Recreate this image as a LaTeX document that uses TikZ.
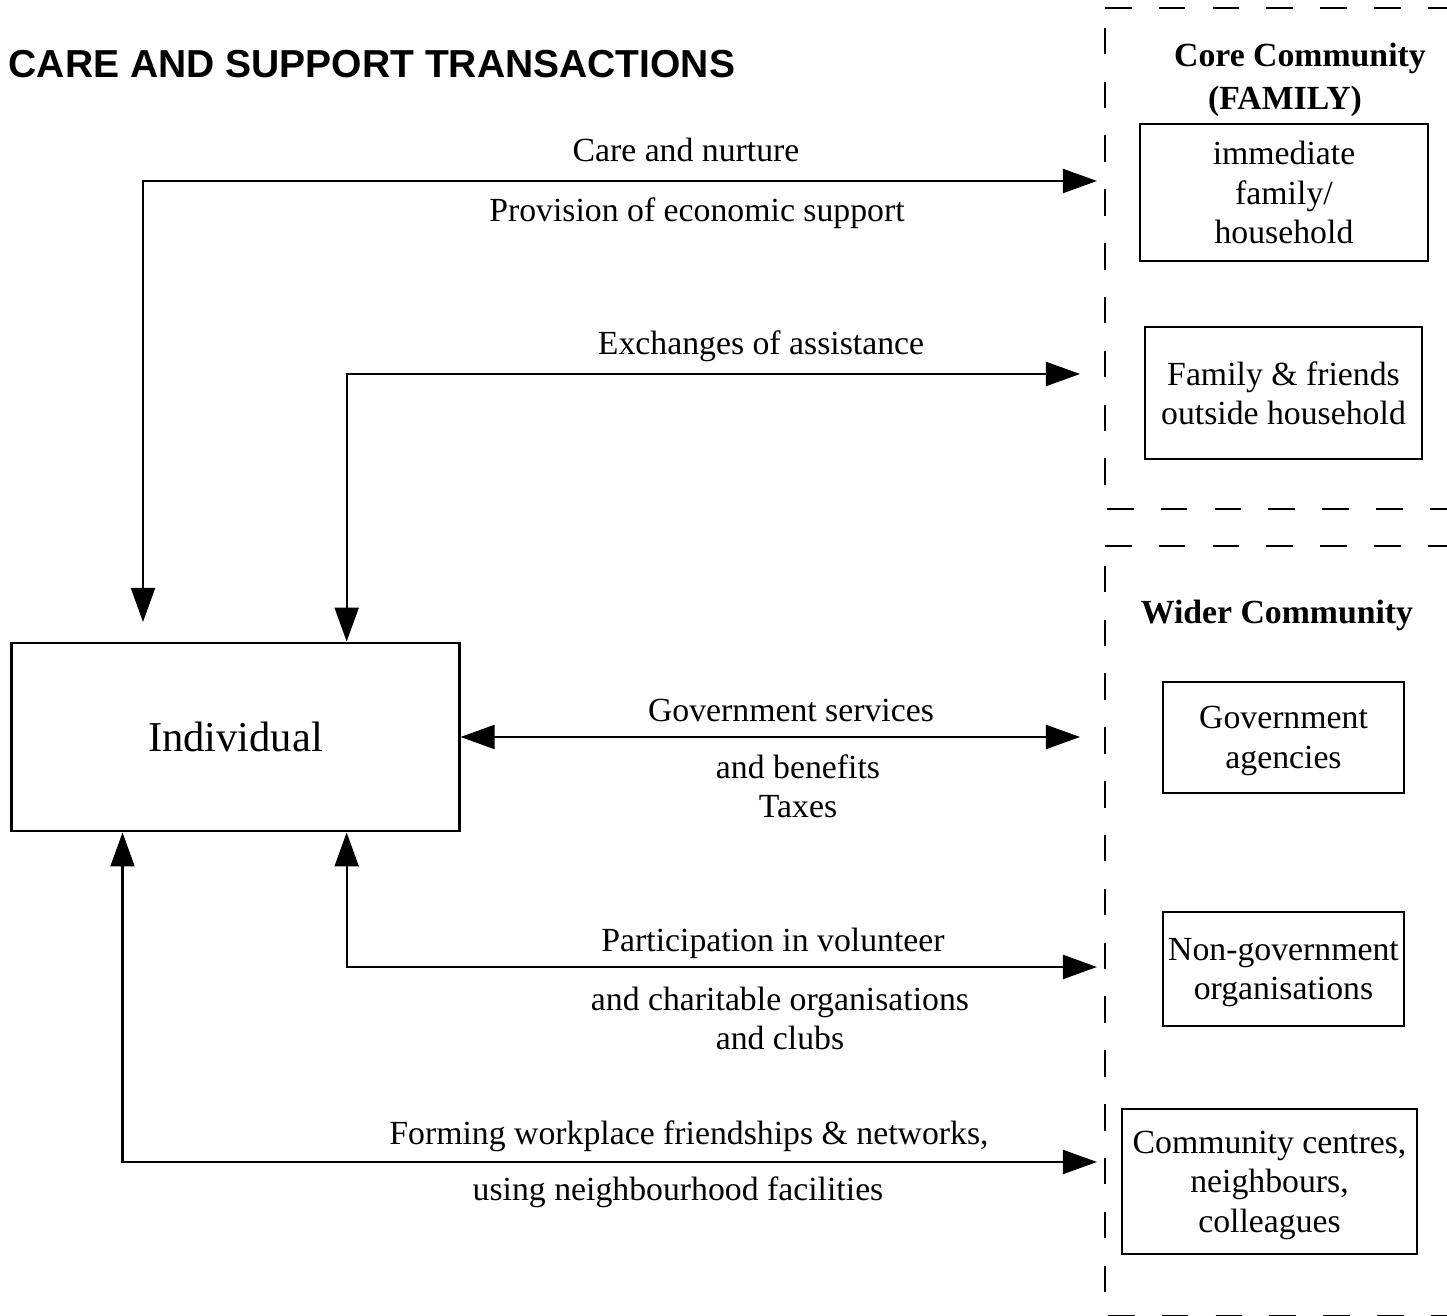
\documentclass[tikz,border=0pt]{standalone}
\usepackage{fontspec}
\setmainfont{Liberation Serif}
\newfontfamily\headfont{Liberation Sans}
\usetikzlibrary{arrows.meta}

\begin{document}
\begin{tikzpicture}[x=0.01cm,y=-0.01cm,
		txt/.style={inner sep=0,align=center,text depth=0pt,font=\fontsize{9.6}{11.2}\selectfont}]
		\useasboundingbox (0,0) rectangle (1447,1316);

		\node[anchor=west,inner sep=0,font=\headfont\bfseries\fontsize{11.1}{13}\selectfont] (title) at (8,64) {CARE AND SUPPORT TRANSACTIONS};

		% community borders
		\begin{scope}[line width=0.65pt,dash pattern=on 0.265cm off 0.273cm]
			\draw (1105,8) -- (1447,8);
			\draw[dash phase=0.34cm] (1105,8) -- (1105,509);
			\draw (1107,509) -- (1447,509);
			\draw (1105,546) -- (1447,546);
			\draw[dash phase=0.34cm] (1105,546) -- (1105,1300);
			\draw (1108,1316) -- (1447,1316);
		\end{scope}

		\begin{scope}[every node/.style={txt,font=\bfseries\fontsize{9.6}{11.2}\selectfont}]
			\node (core) at (1300,55) {Core Community};
			\node (corefam) at (1285,98) {(FAMILY)};
			\node (wider) at (1277,612) {Wider Community};
		\end{scope}

		\begin{scope}[every node/.style={txt,draw,line width=0.8pt}]
			\node[minimum width=4.47cm,minimum height=1.88cm,font=\fontsize{12.1}{14}\selectfont] (ind) at (235.5,737) {Individual};

			\node[minimum width=2.88cm,minimum height=1.37cm] (fam) at (1284,192.5) {immediate\\family/\\household};
			\node[minimum width=2.77cm,minimum height=1.32cm] (frd) at (1283.5,393) {Family \& friends\\outside household};

			\node[minimum width=2.41cm,minimum height=1.11cm] (gov) at (1283.5,737.5) {Government\\agencies};
			\node[minimum width=2.41cm,minimum height=1.14cm] (ngo) at (1283.5,969) {Non-government\\organisations};
			\node[minimum width=2.95cm,minimum height=1.45cm] (com) at (1269.5,1181.5) {Community centres,\\neighbours,\\colleagues};
		\end{scope}

		% free ends of the transactions
		\coordinate (c1) at (143,622);
		\coordinate (e1) at (1097,181);
		\coordinate (e2) at (1080,374);
		\coordinate (e3) at (1080,737);
		\coordinate (e4) at (1097,967);
		\coordinate (e5) at (1097,1162);

		\begin{scope}[>={Triangle[length=3.4mm,width=2.4mm]},line width=0.6pt]
			\draw [<->] (c1) |- (e1);
			\draw [<->] ([xshift=3.36cm]ind.north west) |- (e2);
			\draw [<->] (ind.east) -- (e3);
			\draw [<->] ([xshift=3.36cm]ind.south west) |- (e4);
			\draw [<->] ([xshift=1.12cm]ind.south west) |- (e5);
		\end{scope}

		\begin{scope}[every node/.style={txt}]
			\node (care) at (686,150) {Care and nurture};
			\node (econ) at (697,210) {Provision of economic support};
			\node (exch) at (761,343) {Exchanges of assistance};
			\node (gserv) at (791,710) {Government services};
			\node (taxes) at (798,786) {and benefits\\Taxes};
			\node (vol) at (773,940) {Participation in volunteer};
			\node (char) at (780,1018) {and charitable organisations\\and clubs};
			\node (work) at (689,1133) {Forming workplace friendships \& networks,};
			\node (neigh) at (678,1189) {using neighbourhood facilities};
		\end{scope}
\end{tikzpicture}
\end{document}
